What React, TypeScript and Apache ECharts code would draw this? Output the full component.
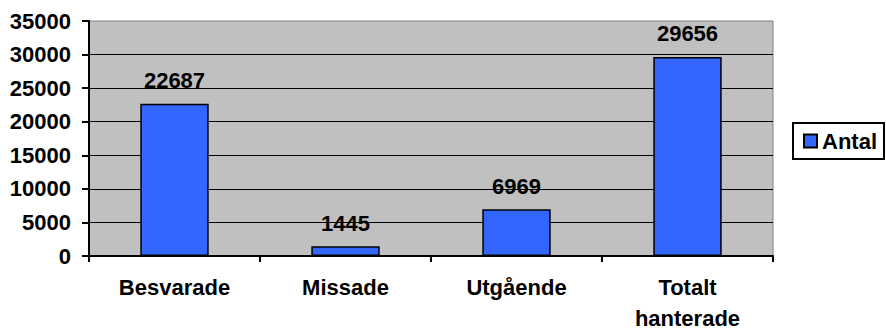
import React, { useEffect, useRef } from "react";
import * as echarts from "echarts";

const categories = ["Besvarade", "Missade", "Utgående", "Totalt\nhanterade"];
const antal = [22687, 1445, 6969, 29656];
const seriesName = "Antal";
const yMin = 0;
const yMax = 35000;
const yInterval = 5000;

const FONT = "'Liberation Sans', Arial, sans-serif";
const FS = 22;

export default function App() {
  const ref = useRef<HTMLDivElement>(null);
  useEffect(() => {
    if (!ref.current) return;
    const chart = echarts.init(ref.current, undefined, { renderer: "svg" });
    chart.setOption({
      animation: false,
      backgroundColor: "#ffffff",
      textStyle: { fontFamily: FONT },
      grid: {
        left: 89,
        right: 113,
        top: 21,
        bottom: 74,
        show: true,
        backgroundColor: "#c0c0c0",
        borderColor: "#808080",
        borderWidth: 1,
        containLabel: false,
      },
      legend: {
        show: true,
        left: 793,
        top: 123,
        orient: "vertical",
        icon: "rect",
        itemWidth: 13,
        itemHeight: 13,
        padding: [7, 7, 7, 10],
        borderColor: "#000000",
        borderWidth: 2,
        backgroundColor: "#ffffff",
        textStyle: { fontFamily: FONT, fontWeight: "bold", fontSize: FS, color: "#000" },
        data: [seriesName],
      },
      xAxis: {
        type: "category",
        data: categories,
        axisLine: { show: true, lineStyle: { color: "#000", width: 2 } },
        axisTick: { show: true, length: 6, lineStyle: { color: "#000", width: 2 } },
        axisLabel: {
          color: "#000",
          fontFamily: FONT,
          fontWeight: "bold",
          fontSize: FS,
          lineHeight: 31,
          margin: 16,
          interval: 0,
        },
        splitLine: { show: false },
      },
      yAxis: {
        type: "value",
        min: yMin,
        max: yMax,
        interval: yInterval,
        axisLine: { show: true, lineStyle: { color: "#000", width: 2 } },
        axisTick: { show: true, length: 7, lineStyle: { color: "#000", width: 2 } },
        axisLabel: {
          color: "#000",
          fontFamily: FONT,
          fontWeight: "bold",
          fontSize: FS,
          margin: 18,
          formatter: (v: number) => String(v),
        },
        splitLine: {
          show: true,
          showMaxLine: false,
          showMinLine: false,
          lineStyle: { color: "#000", width: 1.2 },
        },
      },
      series: [
        {
          name: seriesName,
          type: "bar",
          data: antal,
          barWidth: "40%",
          itemStyle: { color: "#3366ff", borderColor: "#000", borderWidth: 1.5 },
          label: {
            show: true,
            position: "top",
            distance: 12,
            color: "#000",
            fontFamily: FONT,
            fontWeight: "bold",
            fontSize: FS,
          },
        },
      ],
    });
    return () => chart.dispose();
  }, []);
  return (
    <div
      ref={ref}
      style={{ position: "fixed", left: 0, top: 0, width: 886, height: 334, background: "#fff" }}
    />
  );
}
